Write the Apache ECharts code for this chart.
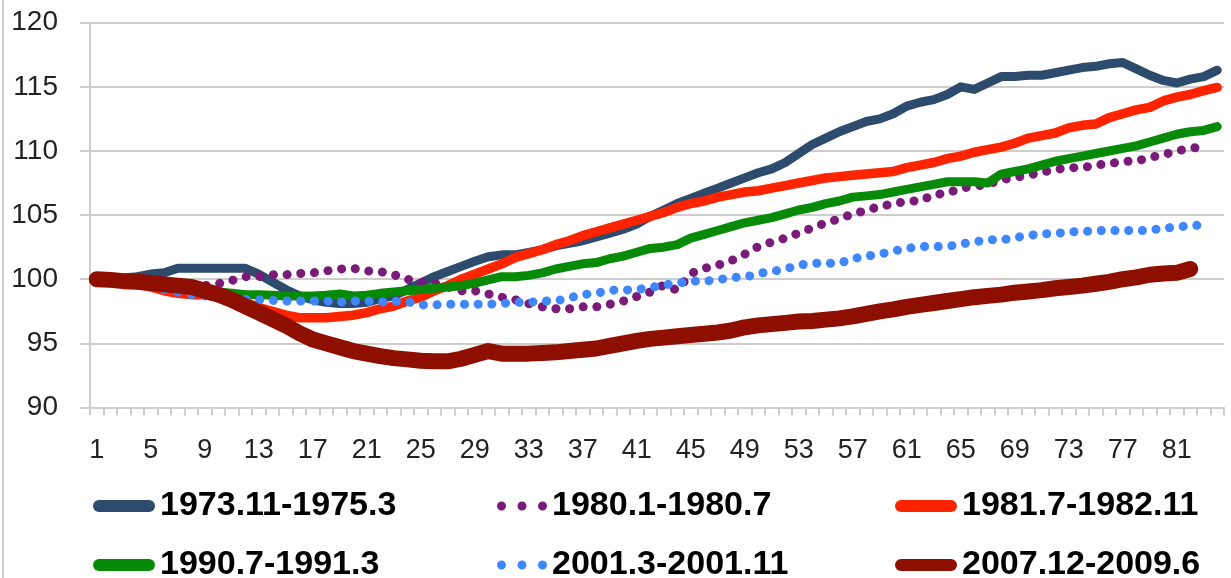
<!DOCTYPE html>
<html>
<head>
<meta charset="utf-8">
<script src="https://cdn.jsdelivr.net/npm/echarts@6/dist/echarts.min.js"></script>
<style>
  html, body { margin: 0; padding: 0; background: #ffffff; }
  #chart { width: 1231px; height: 578px; }
</style>
</head>
<body>
<div id="chart"></div>
<script>
// Months since the start of each recession (index = 100 at month 1)
const months = [
  1, 2, 3, 4, 5, 6, 7, 8, 9, 10, 11, 12, 13, 14, 15, 16, 17, 18, 19, 20, 21,
  22, 23, 24, 25, 26, 27, 28, 29, 30, 31, 32, 33, 34, 35, 36, 37, 38, 39, 40, 41, 42,
  43, 44, 45, 46, 47, 48, 49, 50, 51, 52, 53, 54, 55, 56, 57, 58, 59, 60, 61, 62, 63,
  64, 65, 66, 67, 68, 69, 70, 71, 72, 73, 74, 75, 76, 77, 78, 79, 80, 81, 82, 83, 84
];

const r1973 = [
  100.0, 100.0, 100.1, 100.2, 100.4, 100.5, 100.85, 100.85, 100.85, 100.85, 100.85, 100.85,
  100.4, 99.8, 99.2, 98.7, 98.4, 98.2, 98.1, 98.1, 98.2, 98.5, 98.7, 99.2,
  99.7, 100.2, 100.6, 101.0, 101.4, 101.75, 101.9, 101.9, 102.1, 102.3, 102.6, 102.8,
  103.0, 103.3, 103.6, 103.9, 104.3, 104.9, 105.4, 105.9, 106.3, 106.7, 107.1, 107.5,
  107.9, 108.3, 108.6, 109.1, 109.8, 110.5, 111.0, 111.5, 111.9, 112.3, 112.5, 112.9,
  113.5, 113.8, 114.0, 114.4, 115.0, 114.8, 115.3, 115.8, 115.8, 115.9, 115.9, 116.1,
  116.3, 116.5, 116.6, 116.8, 116.9, 116.4, 115.9, 115.5, 115.3, 115.6, 115.8, 116.3
];

const r1980 = [
  100.0, 99.95, 99.9, 99.8, 99.7, 99.6, 99.5, 99.5, 99.5, 99.65, 99.9, 100.2,
  100.2, 100.35, 100.35, 100.45, 100.5, 100.65, 100.8, 100.85, 100.65, 100.6, 100.35, 100.0,
  99.75, 99.7, 99.4, 99.1, 99.1, 98.85, 98.6, 98.4, 98.1, 97.85, 97.7, 97.7,
  97.85, 97.85, 98.05, 98.3, 98.65, 99.0, 99.55, 99.15, 100.45, 100.85, 101.1, 101.45,
  101.95, 102.55, 102.9, 103.2, 103.6, 104.0, 104.4, 104.7, 105.1, 105.35, 105.7, 105.85,
  106.1, 106.1, 106.6, 106.7, 107.1, 107.25, 107.4, 107.75, 107.95, 108.1, 108.35, 108.55,
  108.7, 108.7, 108.9, 109.0, 109.2, 109.2, 109.5, 109.7, 110.0, 110.2, 110.35
];

const r1981 = [
  100.0, 99.9, 99.8, 99.6, 99.4, 99.1, 98.9, 98.8, 98.8, 98.6, 98.5, 98.2,
  97.8, 97.5, 97.2, 97.0, 97.0, 97.0, 97.1, 97.2, 97.4, 97.7, 97.9, 98.3,
  98.6, 99.1, 99.5, 100.0, 100.4, 100.8, 101.2, 101.7, 102.0, 102.3, 102.7, 103.0,
  103.4, 103.7, 104.0, 104.3, 104.6, 104.9, 105.2, 105.6, 105.9, 106.1, 106.4, 106.6,
  106.8, 106.9, 107.1, 107.3, 107.5, 107.7, 107.9, 108.0, 108.1, 108.2, 108.3, 108.4,
  108.7, 108.9, 109.1, 109.4, 109.6, 109.9, 110.1, 110.3, 110.6, 111.0, 111.2, 111.4,
  111.8, 112.0, 112.1, 112.6, 112.9, 113.2, 113.4, 113.9, 114.2, 114.4, 114.7, 114.95
];

const r1990 = [
  100.0, 99.9, 99.8, 99.7, 99.6, 99.5, 99.4, 99.3, 99.1, 99.0, 98.9, 98.8,
  98.8, 98.75, 98.7, 98.7, 98.7, 98.75, 98.85, 98.7, 98.75, 98.9, 99.0, 99.1,
  99.2, 99.3, 99.4, 99.5, 99.7, 99.95, 100.2, 100.2, 100.3, 100.5, 100.8, 101.0,
  101.2, 101.3, 101.6, 101.8, 102.1, 102.4, 102.5, 102.7, 103.2, 103.5, 103.8, 104.1,
  104.4, 104.6, 104.8, 105.1, 105.4, 105.6, 105.9, 106.1, 106.4, 106.5, 106.6, 106.8,
  107.0, 107.2, 107.4, 107.6, 107.6, 107.6, 107.5, 108.2, 108.4, 108.6, 108.9, 109.2,
  109.4, 109.6, 109.8, 110.0, 110.2, 110.4, 110.7, 111.0, 111.3, 111.5, 111.6, 111.9
];

const r2001 = [
  100.0, 99.9, 99.8, 99.6, 99.4, 99.2, 99.0, 98.8, 98.7, 98.6, 98.5, 98.45,
  98.4, 98.35, 98.3, 98.3, 98.3, 98.3, 98.2, 98.3, 98.3, 98.2, 98.3, 98.25,
  98.0, 98.0, 98.05, 98.05, 98.05, 98.05, 98.1, 98.2, 98.2, 98.3, 98.3, 98.55,
  98.8, 98.9, 99.15, 99.15, 99.2, 99.35, 99.55, 99.7, 99.85, 99.85, 99.95, 100.15,
  100.15, 100.45, 100.6, 100.8, 101.1, 101.25, 101.25, 101.25, 101.6, 101.8, 101.95, 102.2,
  102.4, 102.55, 102.55, 102.55, 102.75, 102.9, 103.1, 103.05, 103.25, 103.4, 103.55, 103.55,
  103.7, 103.7, 103.8, 103.8, 103.8, 103.8, 103.8, 104.0, 104.05, 104.2, 104.2
];

const r2007 = [
  100.0, 99.95, 99.85, 99.8, 99.7, 99.6, 99.5, 99.4, 99.1, 98.8, 98.4, 97.9,
  97.4, 96.9, 96.4, 95.8, 95.3, 95.0, 94.7, 94.4, 94.2, 94.0, 93.85, 93.75,
  93.65, 93.6, 93.6, 93.8, 94.1, 94.4, 94.2, 94.2, 94.2, 94.25, 94.3, 94.4,
  94.5, 94.6, 94.8, 95.0, 95.2, 95.35, 95.45, 95.55, 95.65, 95.75, 95.85, 96.0,
  96.25, 96.4, 96.5, 96.6, 96.7, 96.75, 96.85, 96.95, 97.1, 97.3, 97.5, 97.65,
  97.85, 98.0, 98.15, 98.3, 98.45, 98.6, 98.7, 98.8, 98.95, 99.05, 99.15, 99.3,
  99.4, 99.5, 99.65, 99.8, 100.0, 100.15, 100.35, 100.45, 100.5, 100.8
];

const seriesNames = [
  '1973.11-1975.3', '1980.1-1980.7', '1981.7-1982.11',
  '1990.7-1991.3', '2001.3-2001.11', '2007.12-2009.6'
];
const seriesValues = [r1973, r1980, r1981, r1990, r2001, r2007];

// Line appearance per recession: colour, width, dotted or not
const looks = [
  { color: '#2d4b6d', width: 9, dotted: false },
  { color: '#7a1b7a', width: 9, dotted: true },
  { color: '#ff2400', width: 9.5, dotted: false },
  { color: '#078a07', width: 9, dotted: false },
  { color: '#3f87ff', width: 9, dotted: true },
  { color: '#8e0f00', width: 16, dotted: false }
];

const FONT = '"Liberation Sans", Arial, sans-serif';
const GRID_COLOR = '#cdcdcd';

const series = seriesNames.map((name, i) => ({
  name: name,
  type: 'line',
  data: seriesValues[i],
  symbol: 'none',
  smooth: false,
  z: 2 + i,
  lineStyle: {
    color: looks[i].color,
    width: looks[i].width,
    type: looks[i].dotted ? [0.1, 13.6] : 'solid',
    cap: 'round',
    join: 'round'
  },
  itemStyle: { color: looks[i].color },
  emphasis: { disabled: true }
}));

// Legend icons: pill for solid lines, three dots for dotted lines
const PILL = 'path://M6,0 H56 A6,6 0 0 1 56,12 H6 A6,6 0 0 1 6,0 Z';
const DOTS = 'path://M0,4.5 A4.5,4.5 0 1 0 9,4.5 A4.5,4.5 0 1 0 0,4.5 Z M20.5,4.5 A4.5,4.5 0 1 0 29.5,4.5 A4.5,4.5 0 1 0 20.5,4.5 Z M41,4.5 A4.5,4.5 0 1 0 50,4.5 A4.5,4.5 0 1 0 41,4.5 Z';

const legendCols = [93, 497, 895];
const legendRows = [489, 548];

const legends = seriesNames.map((name, i) => {
  const dotted = looks[i].dotted;
  const thick = i === 5;
  return {
    data: [{ name: name, icon: dotted ? DOTS : PILL }],
    left: legendCols[i % 3],
    top: legendRows[Math.floor(i / 3)],
    orient: 'horizontal',
    padding: 0,
    itemGap: 0,
    itemWidth: dotted ? 50 : 62,
    itemHeight: dotted ? 9 : (thick ? 17 : 12),
    selectedMode: false,
    textStyle: {
      fontFamily: FONT,
      fontWeight: 'bold',
      fontSize: 34,
      color: '#000000'
    }
  };
});

const chart = echarts.init(document.getElementById('chart'), null, { renderer: 'canvas' });

chart.setOption({
  animation: false,
  backgroundColor: '#ffffff',
  grid: { left: 90, right: 7, top: 22.7, bottom: 170.5, containLabel: false },
  xAxis: {
    type: 'category',
    data: months,
    boundaryGap: true,
    axisLine: { show: true, lineStyle: { color: GRID_COLOR, width: 2 } },
    axisTick: { show: true, interval: 0, length: 8, lineStyle: { color: GRID_COLOR, width: 2 } },
    axisLabel: {
      interval: 3,
      margin: 30,
      fontFamily: FONT,
      fontSize: 27,
      color: '#222222'
    },
    splitLine: { show: false }
  },
  yAxis: {
    type: 'value',
    min: 90,
    max: 120,
    interval: 5,
    axisLine: { show: true, lineStyle: { color: GRID_COLOR, width: 2 } },
    axisTick: { show: true, length: 10, lineStyle: { color: GRID_COLOR, width: 2 } },
    axisLabel: {
      margin: 32,
      fontFamily: FONT,
      fontSize: 28,
      color: '#222222'
    },
    splitLine: { show: true, lineStyle: { color: GRID_COLOR, width: 2 } }
  },
  legend: legends,
  series: series,
  graphic: [
    {
      type: 'line',
      shape: { x1: 3, y1: 0, x2: 3, y2: 578 },
      style: { stroke: '#cfcfcf', lineWidth: 2 },
      silent: true
    }
  ]
});
</script>
</body>
</html>
